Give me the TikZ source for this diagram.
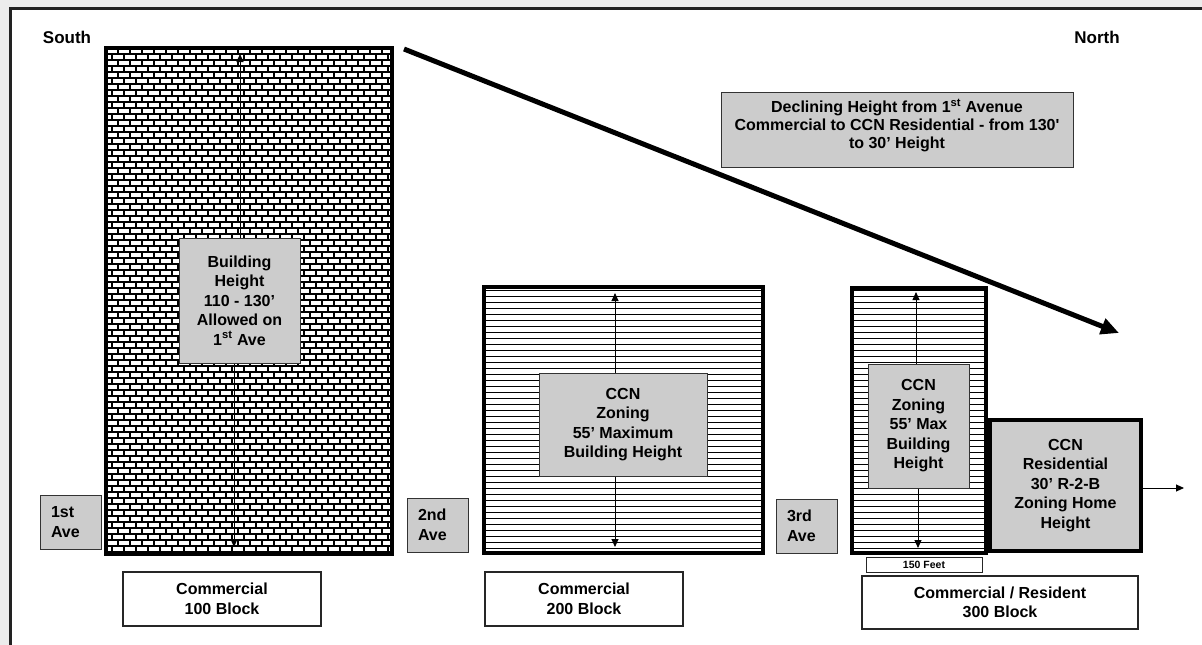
\documentclass[tikz,border=0pt]{standalone}
\usepackage{fontspec}
\setmainfont{Liberation Sans}
\newfontfamily\plainapos{Liberation Sans}
\usetikzlibrary{arrows.meta}
\definecolor{bggray}{HTML}{ECECEC}
\definecolor{framecol}{HTML}{222222}
\definecolor{labgray}{HTML}{CCCCCC}
\begin{document}
\begin{tikzpicture}[x=1pt,y=-1pt,
  txt/.style={font=\fontsize{16}{19.5}\selectfont\bfseries, align=center},
  lab/.style={txt, draw=black!80, line width=1pt, fill=labgray, inner sep=0pt},
  bldg/.style={draw=black, line width=4pt, inner sep=0pt},
  hatch/.style={line width=0.95pt, black},
  brick/.style={line width=1.05pt, black},
  arr/.style={line width=0.9pt, -{Triangle[length=8pt,width=7pt]}},
  bigarr/.style={line width=5pt, -{Triangle[length=18pt,width=16pt]}},
  blockbox/.style={txt, draw=black!85, line width=1.2pt, fill=white, inner sep=0pt},
  avebox/.style={lab, align=left, text width=39pt, inner xsep=11pt},
]
\useasboundingbox (0,0) rectangle (1202,645);
% frame
\fill[bggray] (0,0) rectangle (1202,645);
\fill[white] (9,7) rectangle (1202,645);
\draw[framecol, line width=3pt] (10.5,645) -- (10.5,8.5) -- (1202,8.5);

% brick pattern, building 1
\begin{scope}
\clip (106,48) rectangle (392,554);
\foreach \k in {0,...,84}{
  \pgfmathsetmacro{\yy}{48+6*\k}
  \pgfmathsetmacro{\off}{106+mod(\k,2)*6}
  \draw[brick] (106,\yy) -- (392,\yy);
  \foreach \j in {0,...,24}{\draw[brick] ({\off+12*\j},\yy) -- ++(0,6);}
}
\end{scope}
% horizontal hatching, buildings 2 and 3
\foreach \k in {0,...,43}{
  \pgfmathsetmacro{\yy}{290+6*\k}
  \draw[hatch] (484,\yy) -- (763,\yy);
  \draw[hatch] (852,\yy) -- (986,\yy);
}

% buildings
\node[bldg, minimum width=286pt, minimum height=506pt] (b1) at (249,301) {};
\node[bldg, minimum width=279pt, minimum height=266pt] (b2) at (623.5,420) {};
\node[bldg, minimum width=134pt, minimum height=265pt] (b3) at (919,420.5) {};
\node[bldg, fill=labgray, txt, minimum width=151pt, minimum height=131pt] (res) at (1065.5,485.5) {CCN\\Residential\\30’ R-2-B\\Zoning Home\\Height};

% labels in buildings
\node[lab, minimum width=121pt, minimum height=125pt] (lab1) at (239.5,300.5) {Building\\Height\\110 - 130’\\Allowed on\\1\textsuperscript{st} Ave};
\node[lab, minimum width=168pt, minimum height=103pt] (lab2) at (623,424.5) {CCN\\Zoning\\55’ Maximum\\Building Height};
\node[lab, minimum width=101pt, minimum height=124pt] (lab3) at (918.5,426) {CCN\\Zoning\\55’ Max\\Building\\Height};

% avenue boxes
\node[avebox, minimum height=54pt] (ave1) at (70.5,522) {1st\\Ave};
\node[avebox, minimum height=54pt] (ave2) at (437.5,525) {2nd\\Ave};
\node[avebox, minimum height=54pt] (ave3) at (806.5,526) {3rd\\Ave};

% block boxes
\node[blockbox, minimum width=198pt, minimum height=54pt] (blk1) at (222,599) {Commercial\\100 Block};
\node[blockbox, minimum width=198pt, minimum height=54pt] (blk2) at (584,599) {Commercial\\200 Block};
\node[blockbox, minimum width=276pt, minimum height=53pt] (blk3) at (1000,602.5) {Commercial / Resident\\300 Block};
\node[draw=black!85, line width=1pt, fill=white, inner sep=0pt, minimum width=116pt, minimum height=15pt, font=\fontsize{10.5}{12}\selectfont\bfseries] (feet) at (924,564.5) {150 Feet};

% compass words
\node[txt, font=\fontsize{17}{19}\selectfont\bfseries] (south) at (67,37) {South};
\node[txt, font=\fontsize{17}{19}\selectfont\bfseries] (north) at (1097,37) {North};

% declining box
\node[lab, font=\fontsize{16}{18}\selectfont\bfseries, minimum width=352pt, minimum height=75pt] (decl) at (897,129.5) {Declining Height from 1\textsuperscript{st} Avenue\\Commercial to CCN Residential - from 130{\plainapos\bfseries '}\\to 30’ Height\\[-6pt]};

% height arrows
\coordinate (t1) at (240,54);
\coordinate (d1) at (234,547);
\coordinate (t2) at (615,293);
\coordinate (d2) at (615,547);
\coordinate (t3) at (916,292);
\coordinate (d3) at (918,548);
\draw[arr] (t1 |- lab1.north) -- (t1);
\draw[arr] (d1 |- lab1.south) -- (d1);
\draw[arr] (t2 |- lab2.north) -- (t2);
\draw[arr] (d2 |- lab2.south) -- (d2);
\draw[arr] (t3 |- lab3.north) -- (t3);
\draw[arr] (d3 |- lab3.south) -- (d3);
\coordinate (resend) at (1184,488);
\draw[arr] (resend -| res.east) -- (resend);

% declining arrow
\coordinate (ds) at (404,49);
\coordinate (de) at (1119,333);
\draw[bigarr] (ds) -- (de);
\end{tikzpicture}
\end{document}
